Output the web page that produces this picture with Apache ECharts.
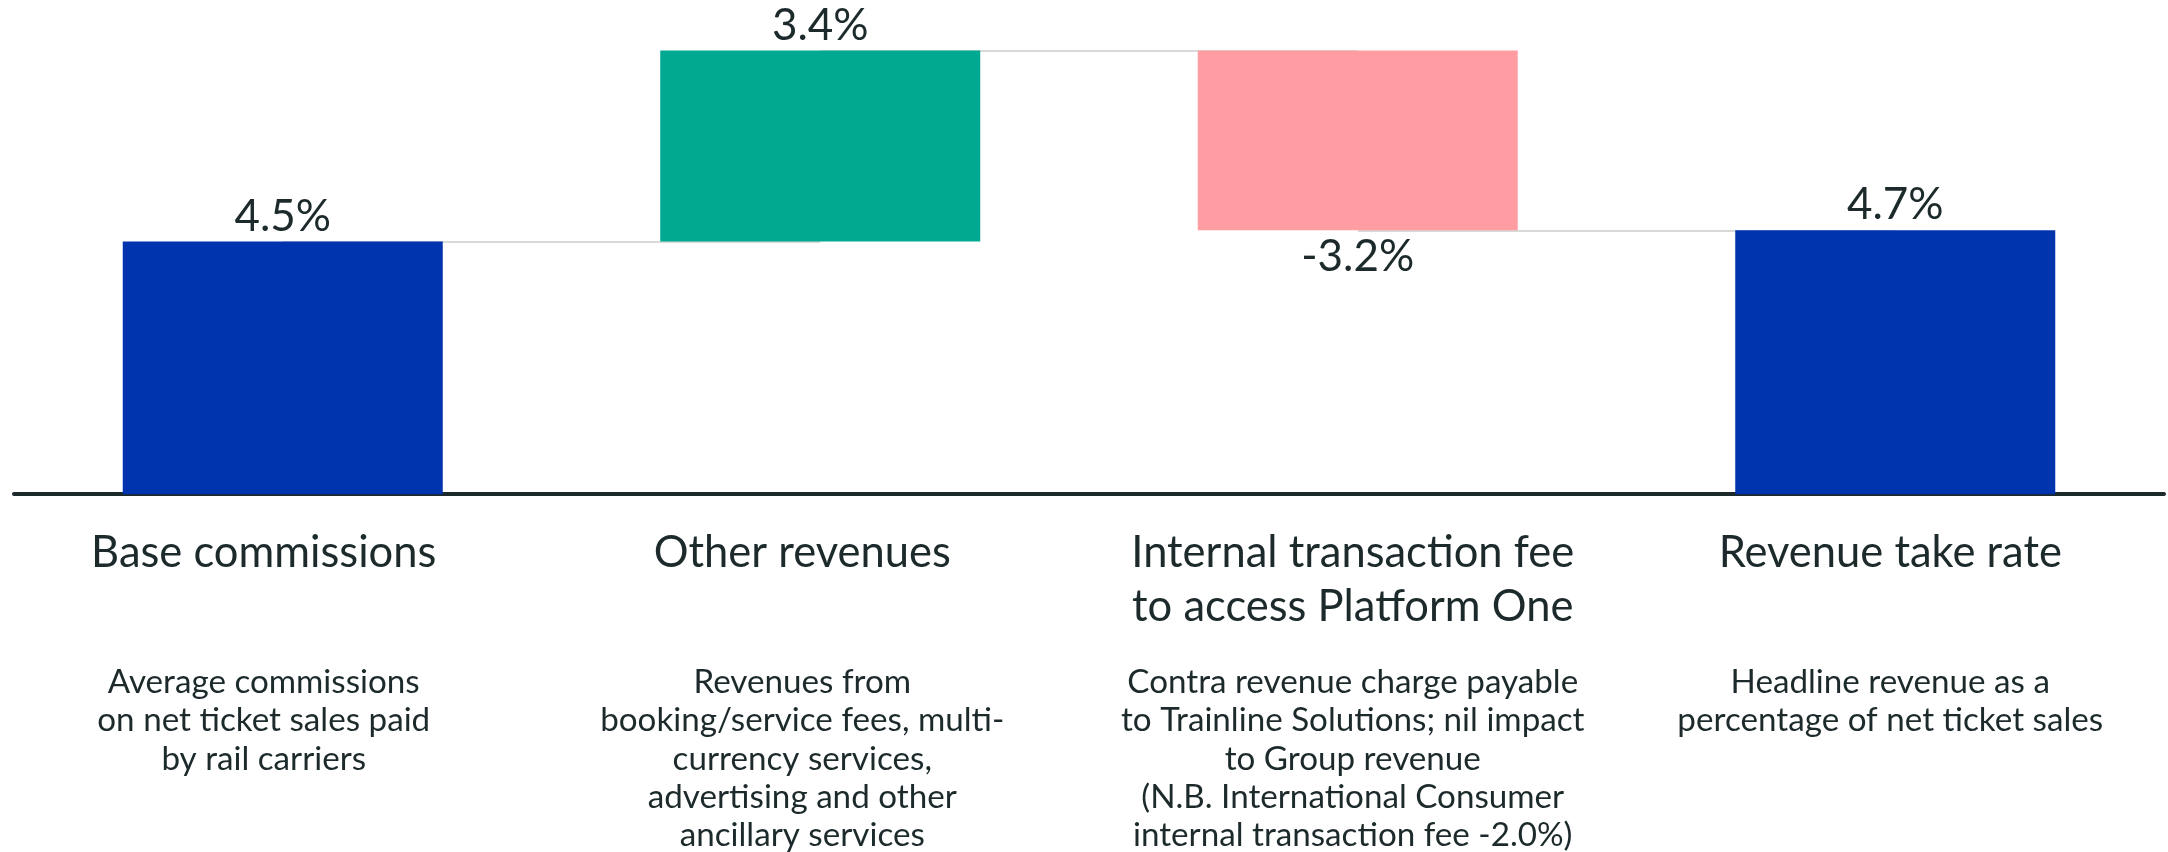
<!DOCTYPE html>
<html>
<head>
<meta charset="utf-8">
<script src="https://cdn.jsdelivr.net/npm/echarts@6/dist/echarts.min.js"></script>
<style>html,body{margin:0;padding:0;background:#fff;}#chart{width:2168px;height:852px;}</style>
</head>
<body>
<div id="chart"></div>
<script>
const categories = ['Base commissions', 'Other revenues', 'Internal transaction fee', 'Revenue take rate'];
const titleLines = [
  ['Base commissions'],
  ['Other revenues'],
  ['Internal transaction fee', 'to access Platform One'],
  ['Revenue take rate']
];
const descLines = [
  ['Average commissions', 'on net ticket sales paid', 'by rail carriers'],
  ['Revenues from', 'booking/service fees, multi-', 'currency services,', 'advertising and other', 'ancillary services'],
  ['Contra revenue charge payable', 'to Trainline Solutions; nil impact', 'to Group revenue', '(N.B. International Consumer', 'internal transaction fee -2.0%)'],
  ['Headline revenue as a', 'percentage of net ticket sales']
];
const values = [4.5, 3.4, -3.2, 4.7];
const kinds = ['total', 'delta', 'delta', 'total'];

// layout only: horizontal nudge of each category label block (px, negative = left)
const LABEL_NUDGE = [-19, -18, -5, -5];

const COLORS = { total: '#0033AE', up: '#00A98F', down: '#FF9DA2' };
const TEXT = '#1D2A2C';
const FONT = 'Lato';

// waterfall geometry derived from values
const base = [], heights = [], levels = [];
let running = 0;
values.forEach((v, i) => {
  if (kinds[i] === 'total') { base.push(0); heights.push(v); running = v; }
  else if (v >= 0) { base.push(running); heights.push(v); running += v; }
  else { base.push(running + v); heights.push(-v); running += v; }
  levels.push(Math.round(running * 10) / 10);
});

const connectors = [];
for (let i = 0; i < categories.length - 1; i++) {
  connectors.push([{ coord: [i, levels[i]] }, { coord: [i + 1, levels[i]] }]);
}

const rich = { s: { fontSize: 10, lineHeight: 29 } };
categories.forEach((c, i) => {
  const pad = [0, Math.max(0, -2 * LABEL_NUDGE[i]), 0, Math.max(0, 2 * LABEL_NUDGE[i])];
  rich['t' + i] = { fontFamily: FONT, fontSize: 43.5, lineHeight: 54, color: TEXT, align: 'center', padding: pad };
  rich['d' + i] = { fontFamily: FONT, fontSize: 33.2, lineHeight: 38.3, color: TEXT, align: 'center', padding: pad };
});

const chart = echarts.init(document.getElementById('chart'), null, { renderer: 'canvas' });

chart.setOption({
  animation: false,
  grid: { left: 14, right: 4, top: 45, bottom: 357 },
  xAxis: {
    type: 'category',
    data: categories,
    axisTick: { show: false },
    axisLine: { lineStyle: { color: TEXT, width: 4 } },
    axisLabel: {
      interval: 0,
      margin: 32,
      formatter: function (val, idx) {
        const t = titleLines[idx].slice();
        while (t.length < 2) t.push(' ');
        const parts = t.map(s => '{t' + idx + '|' + s + '}');
        parts.push('{s| }');
        descLines[idx].forEach(s => parts.push('{d' + idx + '|' + s + '}'));
        return parts.join('\n');
      },
      rich: rich
    }
  },
  yAxis: { type: 'value', min: 0, max: 8, show: false, splitLine: { show: false } },
  series: [
    {
      type: 'bar',
      stack: 'w',
      data: base,
      z: 1,
      itemStyle: { color: 'transparent' },
      emphasis: { disabled: true },
      silent: true,
      markLine: {
        silent: true,
        z: 0,
        symbol: ['none', 'none'],
        label: { show: false },
        lineStyle: { color: '#D9D9D9', width: 2, type: 'solid' },
        emphasis: { disabled: true },
        data: connectors
      }
    },
    {
      type: 'bar',
      stack: 'w',
      barWidth: 320,
      z: 3,
      data: heights.map((h, i) => ({
        value: h,
        itemStyle: { color: kinds[i] === 'total' ? COLORS.total : (values[i] >= 0 ? COLORS.up : COLORS.down) },
        label: {
          show: true,
          position: values[i] >= 0 ? 'top' : 'bottom',
          distance: values[i] >= 0 ? 3 : 5,
          formatter: values[i].toFixed(1) + '%',
          fontFamily: FONT,
          fontSize: 44,
          color: TEXT
        }
      }))
    }
  ]
});
</script>
</body>
</html>
